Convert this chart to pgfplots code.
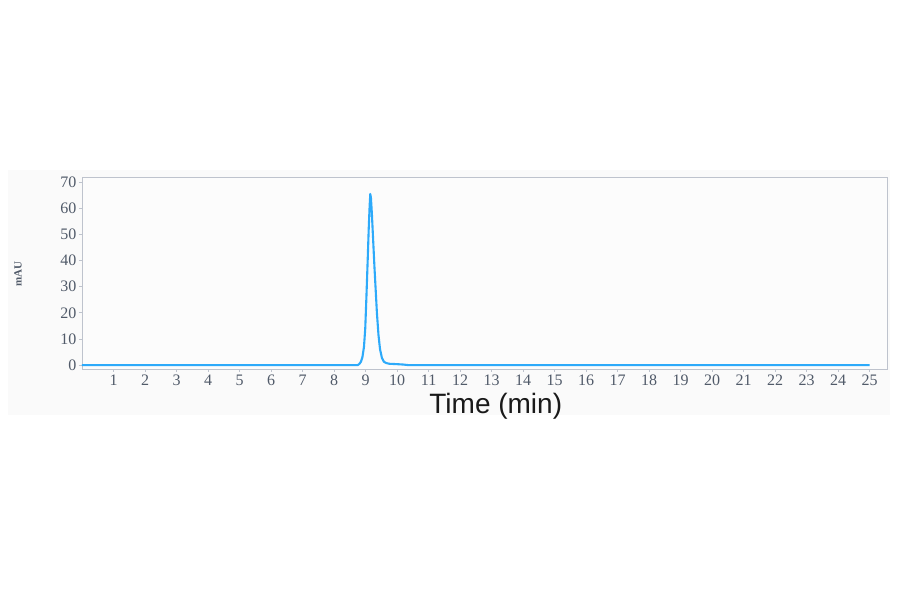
\documentclass[border=0pt]{standalone}
\usepackage{fontspec}
\setmainfont{Liberation Serif}
\newfontfamily\labelfont{Liberation Sans}
\usepackage{pgfplots}
\pgfplotsset{compat=1.18}

\definecolor{trace}{RGB}{45,170,250}
\definecolor{frame}{RGB}{190,195,205}
\definecolor{ticktext}{RGB}{80,90,105}

\begin{document}
\begin{tikzpicture}
\useasboundingbox (-82pt,-225pt) rectangle (818pt,369pt);
\fill[white] (-82pt,-225pt) rectangle (818pt,369pt);
\fill[black!2] (-74pt,-46pt) rectangle (808pt,199pt);
\begin{axis}[
    scale only axis,
    width=805pt, height=192pt,
    xmin=0, xmax=25.55,
    ymin=-1.5, ymax=71.9,
    xtick={1,...,25},
    ytick={0,10,...,70},
    axis line style={frame, line width=0.8pt},
    axis background/.style={fill=white!99!black},
    tick style={frame, line width=0.8pt},
    tick align=outside,
    major tick length=3pt,
    xtick pos=bottom, ytick pos=left,
    /pgf/number format/assume math mode=true,
    ticklabel style={font=\fontsize{16}{16}\selectfont, text=ticktext},
    xticklabel style={yshift=1pt},
    yticklabel style={xshift=1pt},
    xlabel={Time (min)},
    xlabel style={font=\labelfont\fontsize{28}{28}\selectfont, text=black!90,
        at={(axis description cs:0.514,0)}, anchor=base, yshift=-45pt},
    ylabel={mAU},
    ylabel style={font=\bfseries\fontsize{11}{11}\selectfont, text=ticktext,
        at={(axis description cs:-0.0795,0.495)}, anchor=center},
]
\addplot[trace, line width=2.1pt, line join=round] coordinates {
    (0,0) (8.75,0) (8.8,0.4) (8.85,1.2) (8.9,3) (8.95,7) (8.99,14)
    (9.03,27) (9.07,41) (9.1,52) (9.13,61) (9.15,65.4) (9.17,64)
    (9.2,58) (9.24,48) (9.28,38) (9.32,29) (9.36,20) (9.41,11.5)
    (9.46,6) (9.52,2.7) (9.58,1.3) (9.65,0.8) (9.75,0.5) (10.0,0.35)
    (10.2,0.2) (10.35,0) (25,0)
};
\end{axis}
\end{tikzpicture}
\end{document}
